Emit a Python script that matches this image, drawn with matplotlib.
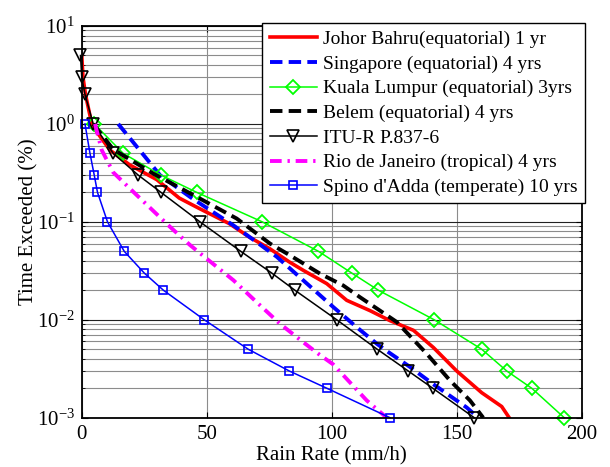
import numpy as np
import matplotlib
matplotlib.use("Agg")
import matplotlib.pyplot as plt
from matplotlib.ticker import FixedLocator, FuncFormatter, NullFormatter

plt.rcParams["font.family"] = ["Liberation Serif", "DejaVu Serif"]
plt.rcParams["mathtext.fontset"] = "custom"
plt.rcParams["mathtext.rm"] = "Liberation Serif"
plt.rcParams["mathtext.it"] = "Liberation Serif:italic"

# rain rate (mm/h) vs time exceeded (%)
johor_x = [0, 0.5, 1.5, 4, 6, 11.3, 19.3, 30, 39, 47, 59, 67, 75.3, 83, 88.6, 98, 106,
           115.3, 123.3, 132.7, 140.7, 150, 160, 168, 171]
johor_y = [5, 3, 2, 1, 0.83, 0.54, 0.38, 0.27, 0.175, 0.137, 0.096, 0.07, 0.053, 0.039,
           0.032, 0.0234, 0.0158, 0.0124, 0.0098, 0.0078, 0.0052, 0.003, 0.0018, 0.0013, 0.001]

singapore_x = [14.6, 31.3, 43.3, 47.3, 60.7, 70, 78, 88.6, 100.6, 110, 118, 122, 131.3,
               140.6, 154, 158.6]
singapore_y = [1, 0.3, 0.18, 0.154, 0.092, 0.062, 0.044, 0.0253, 0.0135, 0.0084, 0.0057,
               0.0048, 0.0033, 0.0022, 0.00127, 0.001]

kl_x = [5, 16.6, 31.7, 46, 72.2, 94.7, 108, 118.7, 141, 160, 170, 180, 193]
kl_y = [1, 0.5, 0.3, 0.2, 0.1, 0.05, 0.03, 0.02, 0.01, 0.005, 0.003, 0.002, 0.001]

belem_x = [4.6, 12.6, 28.7, 46, 62, 75.3, 83.3, 95.3, 104.6, 111.3, 119.3, 126, 138, 147.3,
           155.3, 160.6]
belem_y = [1, 0.55, 0.31, 0.18, 0.108, 0.06, 0.0455, 0.0296, 0.0224, 0.017, 0.0124, 0.0095,
           0.0045, 0.0024, 0.0015, 0.001]

itu_x = [-0.5, 0, 1.3, 4.6, 12.6, 22.6, 31.7, 47.3, 63.6, 76, 85.3, 102, 118.2, 130.6, 140.4, 157]
itu_y = [5, 3, 2, 1, 0.5, 0.3, 0.2, 0.1, 0.05, 0.03, 0.02, 0.01, 0.005, 0.003, 0.002, 0.001]

rio_x = [5.3, 8, 12.6, 21.3, 35.3, 43.3, 50, 60.7, 70, 79.3, 88.6, 94.6, 100.6, 114, 122]
rio_y = [1, 0.54, 0.32, 0.195, 0.089, 0.058, 0.042, 0.0253, 0.0151, 0.0091, 0.0059, 0.0045,
         0.0035, 0.0015, 0.001]

spino_x = [1.3, 3.3, 5, 6.3, 10.3, 17, 25, 32.7, 49, 66.6, 83, 98, 123.3]
spino_y = [1, 0.5, 0.3, 0.2, 0.1, 0.05, 0.03, 0.02, 0.01, 0.005, 0.003, 0.002, 0.001]

labels = [
    "Johor Bahru(equatorial) 1 yr",
    "Singapore (equatorial) 4 yrs",
    "Kuala Lumpur (equatorial) 3yrs",
    "Belem (equatorial) 4 yrs",
    "ITU-R P.837-6",
    "Rio de Janeiro (tropical) 4 yrs",
    "Spino d'Adda (temperate) 10 yrs",
]

fig = plt.figure(figsize=(6.1, 4.67), dpi=100)
ax = fig.add_axes([0.134, 0.1056, 0.8196, 0.8387])

ax.semilogy(johor_x, johor_y, color="red", lw=2.6, label=labels[0])
ax.semilogy(singapore_x, singapore_y, color="blue", lw=2.8, dashes=(3.2, 1.6), label=labels[1])
ax.semilogy(kl_x, kl_y, color="#00ff00", lw=1.1, marker="D", ms=7, mfc="none",
            mec="#00ff00", mew=1.3, label=labels[2], clip_on=False)
ax.semilogy(belem_x, belem_y, color="black", lw=2.8, dashes=(3.2, 1.6), label=labels[3])
ax.semilogy(itu_x, itu_y, color="black", lw=1.1, marker="v", ms=9, mfc="none",
            mec="black", mew=1.2, label=labels[4], clip_on=False)
ax.semilogy(rio_x, rio_y, color="magenta", lw=2.8, dashes=(3.0, 1.5, 0.6, 1.5), label=labels[5])
ax.semilogy(spino_x, spino_y, color="blue", lw=1.1, marker="s", ms=6, mfc="none",
            mec="blue", mew=1.2, label=labels[6], clip_on=False)

ax.set_xlim(0, 200)
ax.set_ylim(1e-3, 10)
ax.xaxis.set_major_locator(FixedLocator([0, 50, 100, 150, 200]))
ax.yaxis.set_major_locator(FixedLocator([1e-3, 1e-2, 1e-1, 1, 10]))
minor = [m * 10.0 ** e for e in range(-3, 1) for m in range(2, 10)]
ax.yaxis.set_minor_locator(FixedLocator(minor))
ax.yaxis.set_minor_formatter(NullFormatter())
ax.yaxis.set_major_formatter(FuncFormatter(lambda v, p: r"$10^{%d}$" % round(np.log10(v))))

ax.grid(True, which="major", axis="y", color="#222222", lw=0.8)
ax.grid(True, which="minor", axis="y", color="#8c8c8c", lw=0.8)
ax.grid(True, which="major", axis="x", color="#8c8c8c", lw=0.8)
ax.set_axisbelow(True)

ax.tick_params(which="both", direction="in", top=True, right=True, labelsize=15)
ax.tick_params(which="major", length=4, pad=5)
ax.tick_params(which="minor", length=2.5)
for s in ax.spines.values():
    s.set_linewidth(1.3)

ax.set_xlabel("Rain Rate (mm/h)", fontsize=15, labelpad=2)
ax.set_ylabel("Time Exceeded (%)", fontsize=15, labelpad=-1)

leg = ax.legend(loc="upper right", bbox_to_anchor=(585 / 610, 1 - 23 / 467),
                bbox_transform=fig.transFigure, fontsize=14, numpoints=1,
                fancybox=False, framealpha=1, edgecolor="black", borderpad=0.38,
                labelspacing=0.36, handlelength=2.45, handletextpad=0.3, borderaxespad=0)
leg.get_frame().set_linewidth(1.0)

fig.savefig("out.png", dpi=100)
